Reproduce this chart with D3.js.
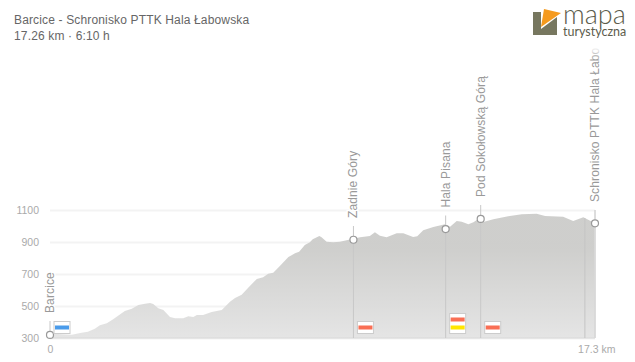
<!DOCTYPE html>
<html>
<head>
<meta charset="utf-8">
<script src="https://cdn.jsdelivr.net/npm/d3@7"></script>
<style>
  html, body { margin: 0; padding: 0; background: #fff; }
  svg { display: block; font-family: "Liberation Sans", Arial, sans-serif; }
</style>
</head>
<body>
<div id="container"></div>
<script>
//step1: data
let distances = [0, 0.10, 0.69, 1.00, 1.20, 1.42, 1.58, 1.80, 2.00, 2.37, 2.59, 2.80, 3.01, 3.17, 3.27, 3.43, 3.59, 3.80, 3.96, 4.22, 4.38, 4.54, 4.65, 4.85, 5.12, 5.44, 5.70, 5.86, 6.07, 6.33, 6.55, 6.75, 6.91, 7.07, 7.28, 7.55, 7.76, 7.89, 8.07, 8.23, 8.32, 8.53, 8.60, 8.76, 8.97, 9.18, 9.57, 9.82, 10.13, 10.29, 10.45, 10.66, 10.98, 11.19, 11.50, 11.63, 11.82, 12.14, 12.51, 12.67, 12.88, 13.04, 13.25, 13.41, 13.62, 13.75, 14.04, 14.51, 14.94, 15.41, 15.68, 16.25, 16.57, 16.89, 17.26];
let elevations = [328, 327, 321, 333, 339, 358, 379, 392, 417, 469, 483, 506, 514, 519, 513, 486, 475, 431, 423, 423, 436, 431, 444, 444, 463, 475, 527, 550, 571, 625, 669, 679, 702, 708, 750, 806, 829, 839, 881, 898, 917, 938, 929, 902, 898, 902, 919, 929, 938, 961, 939, 929, 954, 954, 931, 936, 973, 994, 1011, 996, 1031, 1027, 1011, 1023, 1052, 1027, 1042, 1061, 1073, 1077, 1063, 1058, 1031, 1054, 1017];

// the last name is cut at the top of the plot in the original too
let placeNames = ["Barcice", "Zadnie Góry", "Hala Pisana", "Pod Sokołowską Górą", "Schronisko PTTK Hala Łabo"];
let placeKm = [0, 9.61, 12.53, 13.64, 17.26];
let placeElevation = [319, 914, 981, 1044, 1017];

let signKm = [0, 9.61, 12.53, 13.64];
let signBands = [["#4a9bea"], ["#f96f55"], ["#f96f55", "#ffe600"], ["#f96f55"]];

let extraLineKm = [16.94];
let yTicks = [300, 500, 700, 900, 1100];
let xTicks = [0, 17.3];
let titleLines = ["Barcice - Schronisko PTTK Hala Łabowska", "17.26 km · 6:10 h"];

let data = distances.map(function(d, i){
  return {km: d, ele: elevations[i]};
});

//step2: settings
let w = 635;
let h = 362;
let left = 50;
let right = 595;
let bottom = 338;
let top1100 = 210;

let viz = d3.select("#container")
  .append("svg")
    .attr("width", w)
    .attr("height", h)
;

let xScale = d3.scaleLinear().domain([0, 17.26]).range([left, right]);
let yScale = d3.scaleLinear().domain([300, 1100]).range([bottom, top1100]);

let defs = viz.append("defs");
let areaGradient = defs.append("linearGradient")
  .attr("id", "areaGradient")
  .attr("gradientUnits", "userSpaceOnUse")
  .attr("x1", 0).attr("x2", 0)
  .attr("y1", top1100).attr("y2", bottom);
areaGradient.append("stop").attr("offset", "0.3").attr("stop-color", "#cdcdcb").attr("stop-opacity", 0.97);
areaGradient.append("stop").attr("offset", "1").attr("stop-color", "#e4e4e4").attr("stop-opacity", 0.97);

let fadeGradient = defs.append("linearGradient")
  .attr("id", "fadeGradient")
  .attr("x1", 0).attr("x2", 0)
  .attr("y1", 0).attr("y2", 1);
fadeGradient.append("stop").attr("offset", "0.4").attr("stop-color", "#fff").attr("stop-opacity", 1);
fadeGradient.append("stop").attr("offset", "1").attr("stop-color", "#fff").attr("stop-opacity", 0);

//step3: title
viz.append("g").selectAll("text").data(titleLines).enter()
  .append("text")
    .attr("x", 14)
    .attr("y", function(d, i){ return 24 + i * 16; })
    .attr("font-size", 12)
    .attr("letter-spacing", 0.15)
    .attr("fill", "#666")
    .text(function(d){ return d; })
;

//step4: logo
let logo = viz.append("g").classed("logo", true);
logo.append("path").attr("d", "M533,12H541V35H533Z").attr("fill", "#77775f");
logo.append("path").attr("d", "M544,9L561,13L541,27Z").attr("fill", "#f59a1d");
logo.append("path").attr("d", "M541,29L557,17V35H541Z").attr("fill", "#77775f");
logo.append("text").attr("x", 563).attr("y", 24).attr("font-family", "Lato").attr("font-weight", 300).attr("font-size", 27).attr("fill", "#5c5c4c").text("mapa");
logo.append("text").attr("x", 563).attr("y", 36).attr("font-family", "Lato").attr("font-size", 12.5).attr("fill", "#5c5c4c").text("turystyczna");

//step5: axes
let yAxis = d3.axisLeft(yScale).tickValues(yTicks).tickSize(-(right - left)).tickPadding(11).tickFormat(d3.format("d"));
let yAxisGroup = viz.append("g").attr("transform", "translate(" + left + ",0)").call(yAxis);
yAxisGroup.select(".domain").remove();
yAxisGroup.selectAll("line").attr("stroke", "#f3f3f3").attr("stroke-width", 2);
yAxisGroup.selectAll("text").attr("font-size", 10.5).attr("font-family", "Liberation Sans").attr("fill", "#aaa");

let xAxis = d3.axisBottom(xScale).tickValues(xTicks).tickSize(0).tickPadding(8).tickFormat(function(d){
  return d == 0 ? "0" : d + " km";
});
let xAxisGroup = viz.append("g").attr("transform", "translate(0," + bottom + ")").call(xAxis);
xAxisGroup.select(".domain").remove();
xAxisGroup.selectAll("text").attr("font-size", 10.5).attr("font-family", "Liberation Sans").attr("fill", "#aaa");

//step6: profile
let area = d3.area()
  .x(function(d){ return xScale(d.km); })
  .y0(bottom)
  .y1(function(d){ return yScale(d.ele); })
;
viz.append("path").datum(data).attr("d", area).attr("fill", "url(#areaGradient)");

viz.append("line")
  .attr("x1", left).attr("x2", right)
  .attr("y1", bottom).attr("y2", bottom)
  .attr("stroke", "#d8d8d8").attr("stroke-width", 1);
viz.append("line")
  .attr("x1", right).attr("x2", right)
  .attr("y1", top1100).attr("y2", bottom)
  .attr("stroke", "#ededed").attr("stroke-width", 1.5);

viz.append("g").selectAll("line").data(extraLineKm).enter()
  .append("line")
    .attr("x1", function(d){ return xScale(d); })
    .attr("x2", function(d){ return xScale(d); })
    .attr("y1", 218)
    .attr("y2", bottom)
    .attr("stroke", "#c4c4c4")
;

//step7: waypoints
let places = placeNames.map(function(d, i){
  return {name: d, km: placeKm[i], ele: placeElevation[i]};
});
let labelBottom = [313, 218, 207.5, 197, 202];

let placeGroups = viz.append("g").selectAll(".place").data(places).enter()
  .append("g")
    .classed("place", true)
    .attr("transform", function(d){ return "translate(" + xScale(d.km) + ",0)"; })
;
placeGroups.append("line")
  .attr("y1", function(d, i){ return labelBottom[i] + 8; })
  .attr("y2", bottom)
  .attr("stroke", "#c8c8c8");
placeGroups.append("circle")
  .attr("cy", function(d){ return yScale(d.ele); })
  .attr("r", 3.5)
  .attr("fill", "#fff")
  .attr("stroke", "#999")
  .attr("stroke-width", 1.2);
placeGroups.append("text")
  .attr("transform", function(d, i){ return "translate(4," + labelBottom[i] + ") rotate(-90)"; })
  .attr("font-size", 12)
  .attr("letter-spacing", 0.12)
  .attr("fill", "#999")
  .attr("stroke", "#fff")
  .attr("stroke-width", 3)
  .attr("paint-order", "stroke")
  .text(function(d){ return d.name; });

viz.append("rect")
  .attr("x", 583).attr("y", 38)
  .attr("width", 24).attr("height", 22)
  .attr("fill", "url(#fadeGradient)");

//step8: trail signs
let signs = viz.append("g").selectAll(".sign").data(signKm).enter()
  .append("g")
    .classed("sign", true)
    .attr("transform", function(d){ return "translate(" + (xScale(d) + 3.5) + ",333)"; })
;
signs.append("rect")
  .attr("x", 0.5)
  .attr("y", function(d, i){ return -3.5 - signBands[i].length * 8; })
  .attr("width", 16)
  .attr("height", function(d, i){ return 4 + signBands[i].length * 8; })
  .attr("fill", "#fff")
  .attr("stroke", "#ccc");
signs.each(function(d, i){
  d3.select(this).selectAll(".band").data(signBands[i]).enter()
    .append("rect")
      .classed("band", true)
      .attr("x", 1.5)
      .attr("y", function(c, j){ return -7.5 - (signBands[i].length - 1 - j) * 8; })
      .attr("width", 14)
      .attr("height", 4)
      .attr("fill", function(c){ return c; });
});
</script>
</body>
</html>
